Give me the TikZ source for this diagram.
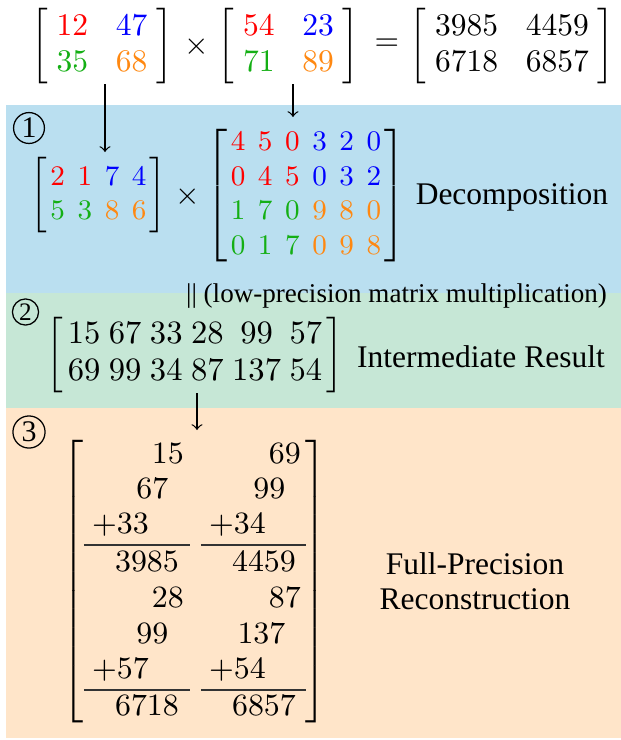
\RequirePackage{fix-cm}
\documentclass[tikz,border=0pt]{standalone}
\usepackage[no-math]{fontspec}
\setmainfont{Liberation Serif}
\usepackage{tikz}

% colours of the digit groups and of the three bands
\definecolor{digRed}{RGB}{255,0,0}
\definecolor{digBlue}{RGB}{0,0,255}
\definecolor{digGreen}{RGB}{20,175,20}
\definecolor{digOrange}{RGB}{255,136,17}
\definecolor{bandBlue}{RGB}{186,223,240}
\definecolor{bandGreen}{RGB}{198,231,214}
\definecolor{bandOrange}{RGB}{255,229,201}

\newcommand{\cR}[1]{\textcolor{digRed}{#1}}
\newcommand{\cB}[1]{\textcolor{digBlue}{#1}}
\newcommand{\cG}[1]{\textcolor{digGreen}{#1}}
\newcommand{\cO}[1]{\textcolor{digOrange}{#1}}

% font sizes (one picture unit = 0.3175pt)
\newcommand{\TopSize}{\fontsize{10}{11.43}\selectfont}
\newcommand{\DecSize}{\fontsize{9}{11.1}\selectfont}
\newcommand{\MidSize}{\fontsize{10.35}{11.75}\selectfont}
\newcommand{\RecSize}{\fontsize{9.85}{11}\selectfont}

\tikzset{
  matnode/.style={inner sep=0pt},
  opnode/.style={inner sep=0pt,font=\TopSize},
  caption/.style={inner sep=0pt,align=center,font=\fontsize{10}{11.1}\selectfont},
  stepnum/.style={circle,draw,thin,inner sep=0pt,font=\fontsize{9.5}{10}\selectfont},
  sumpart/.style={anchor=base east,inner sep=0pt,font=\RecSize},
  sumrule/.style={line width=0.35pt,black!80},
}

\begin{document}
\begin{tikzpicture}[x=0.3175pt,y=-0.3175pt]
\useasboundingbox (0,0) rectangle (621,740);

% ---------------- bands ----------------
\fill[bandBlue]   (6,105) rectangle (621,293);
\fill[bandGreen]  (6,293) rectangle (621,408);
\fill[bandOrange] (6,408) rectangle (621,738);

% ---------------- the product to compute ----------------
\node[matnode,font=\TopSize] (A) at (102,46)
  {$\arraycolsep=4.4pt\left[\begin{array}{@{\hspace{2.8pt}}cc@{\hspace{2.8pt}}}
     \cR{12} & \cB{47}\\ \cG{35} & \cO{68}\end{array}\right]$};
\node[opnode] (times1) at (197,47) {$\times$};
\node[matnode,font=\TopSize] (B) at (288.5,46)
  {$\arraycolsep=4.4pt\left[\begin{array}{@{\hspace{2.8pt}}cc@{\hspace{2.8pt}}}
     \cR{54} & \cB{23}\\ \cG{71} & \cO{89}\end{array}\right]$};
\node[opnode] (eq) at (387,45) {$=$};
\node[matnode,font=\TopSize] (C) at (512,46)
  {$\arraycolsep=4.4pt\left[\begin{array}{@{\hspace{2.8pt}}cc@{\hspace{2.8pt}}}
     3985 & 4459\\ 6718 & 6857\end{array}\right]$};

% ---------------- (1) decomposition ----------------
\node[stepnum,minimum size=9.8pt] (s1) at (29,128) {1};

\node[matnode,font=\DecSize] (Ad) at (98.5,195.5)
  {$\arraycolsep=2pt\left[\begin{array}{@{\hspace{1pt}}cccc@{\hspace{1pt}}}
     \cR{2} & \cR{1} & \cB{7} & \cB{4}\\
     \cG{5} & \cG{3} & \cO{8} & \cO{6}\end{array}\right]$};
\node[opnode] (times2) at (188,197) {$\times$};
\node[matnode,font=\DecSize] (Bd) at (306,195.5)
  {$\arraycolsep=2pt\left[\begin{array}{@{\hspace{1pt}}cccccc@{\hspace{1pt}}}
     \cR{4} & \cR{5} & \cR{0} & \cB{3} & \cB{2} & \cB{0}\\
     \cR{0} & \cR{4} & \cR{5} & \cB{0} & \cB{3} & \cB{2}\\
     \cG{1} & \cG{7} & \cG{0} & \cO{9} & \cO{8} & \cO{0}\\
     \cG{0} & \cG{1} & \cG{7} & \cO{0} & \cO{9} & \cO{8}\end{array}\right]$};
\node[caption,anchor=base] (decLbl) at (512,204) {Decomposition};

% arrows from the inputs to their digit matrices
\coordinate (tipA) at (105,152);
\coordinate (tipB) at (293,117);
\draw[->] (A.south -| tipA) -- (tipA);
\draw[->] (B.south -| tipB) -- (tipB);

% ---------------- (2) intermediate result ----------------
\node[anchor=base,inner sep=0pt,font=\fontsize{8.6}{10}\selectfont] (note) at (396.5,302)
  {|| (low-precision matrix multiplication)};
\node[stepnum,minimum size=8.3pt,font=\fontsize{8}{9}\selectfont] (s2) at (25.5,312) {2};

\node[matnode,font=\MidSize] (M) at (195,355)
  {$\arraycolsep=1.35pt\left[\begin{array}{@{\hspace{1.5pt}}cccccc@{\hspace{1.5pt}}}
     15 & 67 & 33 & 28 & 99 & 57\\
     69 & 99 & 34 & 87 & 137 & 54\end{array}\right]$};
\node[caption,anchor=base] (midLbl) at (481,367) {Intermediate Result};

\coordinate (tipC) at (197,430);
\draw[->] (M.south -| tipC) -- (tipC);

% ---------------- (3) reconstruction ----------------
\node[stepnum,minimum size=10.2pt] (s3) at (29,432) {3};

\node[inner sep=0pt,anchor=west] (Rl) at (62,581.5)
  {$\left[\vcenter{\hrule width 0pt height 94pt}\right.$};
\node[inner sep=0pt,anchor=east] (Rr) at (327,581.5)
  {$\left.\vcenter{\hrule width 0pt height 94pt}\right]$};

% shifted partial sums, column 1 and column 2
\foreach \txt/\xr/\yb [count=\k] in {15/184.5/463, 67/169/498, +33/149.5/533, 3985/179.5/571,
    28/184.5/607, 99/169/643, +57/149.5/678, 6718/179.5/715}
  \node[sumpart] (p1-\k) at (\xr,\yb) {$\txt$};
\foreach \txt/\xr/\yb [count=\k] in {69/301.5/463, 99/286/498, +34/266.5/533, 4459/296.5/571,
    87/301.5/607, 137/286/643, +54/266.5/678, 6857/296.5/715}
  \node[sumpart] (p2-\k) at (\xr,\yb) {$\txt$};

\draw[sumrule] (84,545) -- (190,545);
\draw[sumrule] (201,545) -- (306,545);
\draw[sumrule] (84,690) -- (190,690);
\draw[sumrule] (201,690) -- (306,690);

\node[caption] (recLbl) at (475,581) {Full-Precision\\Reconstruction};

\end{tikzpicture}
\end{document}
